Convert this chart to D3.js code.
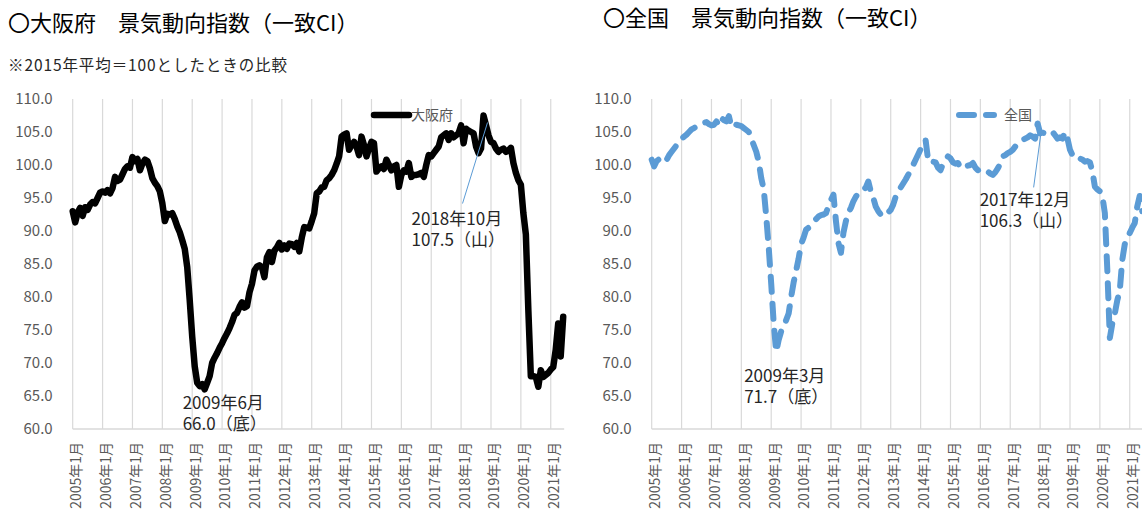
<!DOCTYPE html>
<html>
<head>
<meta charset="utf-8">
<script src="https://cdn.jsdelivr.net/npm/d3@7/dist/d3.min.js"></script>
<style>
  body { margin: 0; background: #fff; }
  svg { display: block; font-family: "Noto Sans CJK JP", "Noto Sans", sans-serif; }
</style>
</head>
<body>
<div id="chart"></div>
<script>
// 景気動向指数（一致CI）、2015年平均=100、月次 2005年1月〜2021年6月
let osakaCI = [
  93.0, 91.3, 92.8, 93.5, 92.3, 93.6, 93.2, 94.0, 94.4, 94.2, 95.0, 95.8,       // 2005
  96.0, 95.8, 96.2, 95.7, 96.5, 98.2, 97.6, 97.8, 98.6, 99.4, 99.8, 99.6,       // 2006
  101.2, 100.6, 100.9, 99.2, 100.2, 100.8, 100.6, 99.5, 98.0, 97.3, 96.8, 96.0, // 2007
  94.2, 91.5, 92.6, 92.5, 92.7, 91.8, 90.7, 89.8, 88.6, 87.3, 84.5, 79.5,       // 2008
  74.0, 69.5, 67.0, 66.5, 66.8, 66.0, 67.0, 68.0, 70.0, 70.8, 71.5, 72.3,       // 2009
  73.0, 73.8, 74.5, 75.3, 76.2, 77.3, 77.6, 78.5, 79.2, 78.4, 78.6, 80.7,       // 2010
  82.0, 84.0, 84.6, 84.8, 84.5, 83.0, 86.0, 86.8, 85.3, 87.0, 87.5, 88.2,       // 2011
  87.2, 87.8, 87.3, 88.1, 88.0, 87.6, 88.2, 86.9, 89.0, 90.6, 90.5, 90.4,       // 2012
  91.5, 92.7, 95.7, 96.0, 96.6, 96.7, 97.7, 98.0, 98.5, 99.2, 100.2, 101.3,     // 2013
  104.3, 104.6, 104.8, 102.3, 103.0, 103.5, 102.8, 101.5, 104.3, 103.0, 101.3, 102.5, // 2014
  103.5, 103.3, 99.0, 99.5, 99.8, 99.4, 100.8, 100.0, 99.2, 99.8, 100.0, 96.7,  // 2015
  98.5, 99.2, 99.0, 100.3, 98.2, 98.5, 98.5, 98.6, 98.8, 98.2, 100.0, 101.5,    // 2016
  101.3, 101.8, 102.3, 102.8, 104.2, 104.5, 104.8, 103.8, 104.8, 104.2, 104.5, 104.8, // 2017
  106.0, 103.3, 105.5, 105.2, 105.0, 104.8, 102.8, 101.8, 102.5, 107.5, 106.0, 104.5, // 2018
  103.5, 103.3, 102.5, 102.0, 102.3, 102.5, 102.0, 102.2, 102.6, 100.3, 98.8, 97.7,   // 2019
  97.0, 92.7, 89.5, 78.0, 68.0, 68.0, 67.9, 66.4, 68.9, 67.9, 68.2, 68.5,       // 2020
  69.0, 69.4, 72.0, 76.0, 71.0, 77.0                                            // 2021
];

let zenkokuCI = [
  100.8, 99.8, 100.6, 100.9, 101.0, 101.3, 100.8, 101.5, 102.0, 102.5, 103.0, 103.5, // 2005
  104.0, 104.3, 104.6, 105.0, 105.4, 105.6, 105.8, 106.1, 106.2, 106.4, 106.5, 106.2, // 2006
  106.0, 106.1, 106.6, 106.1, 107.1, 106.8, 106.6, 107.4, 105.8, 106.2, 106.1, 106.0, // 2007
  105.9, 105.6, 105.3, 105.0, 104.0, 103.0, 102.0, 100.5, 98.0, 96.3, 92.2, 87.5,     // 2008
  82.0, 76.0, 71.7, 73.5, 74.8, 75.5, 76.5, 77.5, 80.0, 82.2, 84.0, 85.8,             // 2009
  88.0, 89.0, 90.2, 90.5, 90.9, 91.3, 91.8, 92.2, 92.4, 92.5, 92.7, 93.8,             // 2010
  94.7, 95.5, 91.5, 88.2, 86.7, 89.7, 91.5, 92.8, 93.5, 94.5, 95.2, 95.8,             // 2011
  96.0, 96.2, 96.6, 97.5, 96.0, 95.0, 93.7, 93.0, 92.5, 92.2, 92.5, 92.8,             // 2012
  93.2, 94.0, 95.2, 95.8, 96.6, 97.2, 97.8, 98.5, 99.2, 100.0, 100.8, 101.6,          // 2013
  102.4, 103.0, 103.8, 100.8, 100.3, 100.5, 100.4, 99.6, 99.2, 100.2, 100.8, 101.3,   // 2014
  101.0, 100.4, 100.2, 100.3, 99.6, 99.5, 99.8, 99.9, 100.0, 100.3, 99.6, 99.2,       // 2015
  99.4, 99.2, 99.2, 99.0, 98.7, 98.5, 98.9, 99.5, 100.2, 101.3, 101.5, 101.8,         // 2016
  102.0, 102.3, 102.8, 103.0, 103.3, 103.8, 104.0, 104.2, 104.5, 104.3, 104.0, 106.3, // 2017
  104.8, 104.9, 104.8, 104.6, 104.8, 105.0, 104.5, 104.0, 104.2, 104.0, 105.0, 104.0, // 2018
  102.3, 101.5, 101.7, 101.3, 101.0, 100.8, 100.5, 100.6, 100.4, 99.0, 96.7, 96.3,    // 2019
  96.0, 95.3, 92.7, 84.0, 73.8, 76.0, 77.5, 79.5, 81.0, 85.6, 88.0, 89.0,             // 2020
  89.7, 90.5, 91.2, 93.7, 95.3, 93.0                                                  // 2021
];

let yearLabels = ["2005年1月", "2006年1月", "2007年1月", "2008年1月", "2009年1月", "2010年1月",
  "2011年1月", "2012年1月", "2013年1月", "2014年1月", "2015年1月", "2016年1月",
  "2017年1月", "2018年1月", "2019年1月", "2020年1月", "2021年1月"];

let yTicks = [60, 65, 70, 75, 80, 85, 90, 95, 100, 105, 110];

// 山・谷のラベル（月の番号は2005年1月=0）
let osakaMarks = [
  { month: 53, text: ["2009年6月", "66.0（底）"] },
  { month: 165, text: ["2018年10月", "107.5（山）"] }
];
let zenkokuMarks = [
  { month: 50, text: ["2009年3月", "71.7（底）"] },
  { month: 155, text: ["2017年12月", "106.3（山）"] }
];

let width = 1142;
let height = 518;
let plotWidth = 490.5;

let svg = d3.select("#chart").append("svg")
  .attr("width", width)
  .attr("height", height);

svg.append("rect").attr("width", width).attr("height", height).attr("fill", "#fff");

let y = d3.scaleLinear().domain([60, 110]).range([429, 99]);

function drawPanel(left, values, marks, opt) {
  let x = d3.scaleLinear().domain([0, 197]).range([left, left + plotWidth]);
  let g = svg.append("g");

  // vertical gridlines every January
  g.selectAll(".grid")
    .data(yearLabels)
    .enter().append("line")
    .attr("x1", (d, i) => x(i * 12))
    .attr("x2", (d, i) => x(i * 12))
    .attr("y1", y(110))
    .attr("y2", y(60))
    .attr("stroke", "#d9d9d9")
    .attr("stroke-width", 1.2);

  // bottom axis line
  g.append("line")
    .attr("x1", x(0)).attr("x2", x(197) + 1)
    .attr("y1", y(60)).attr("y2", y(60))
    .attr("stroke", "#d9d9d9")
    .attr("stroke-width", 1.5);

  // y tick labels
  g.selectAll(".ytick")
    .data(yTicks)
    .enter().append("text")
    .attr("x", left - 20)
    .attr("y", d => y(d))
    .attr("dy", "0.35em")
    .attr("text-anchor", "end")
    .attr("font-size", 15)
    .attr("fill", "#595959")
    .text(d => d3.format(".1f")(d));

  // x tick labels (rotated)
  g.selectAll(".xtick")
    .data(yearLabels)
    .enter().append("text")
    .attr("transform", (d, i) => "translate(" + (x(i * 12) + 3.5) + ",442) rotate(-90)")
    .attr("dy", "0.35em")
    .attr("text-anchor", "end")
    .attr("font-size", 14)
    .attr("fill", "#595959")
    .text(d => d);

  let line = d3.line()
    .x((d, i) => x(i))
    .y(d => y(d));

  g.append("path")
    .datum(values)
    .attr("d", line)
    .attr("fill", "none")
    .attr("stroke", opt.color)
    .attr("stroke-width", opt.width)
    .attr("stroke-dasharray", opt.dash)
    .attr("stroke-linejoin", "round")
    .attr("stroke-linecap", "round");

  // legend
  g.append("line")
    .attr("x1", opt.legendX).attr("x2", opt.legendX + 35)
    .attr("y1", 115).attr("y2", 115)
    .attr("stroke", opt.color)
    .attr("stroke-width", opt.width)
    .attr("stroke-dasharray", opt.dash)
    .attr("stroke-linecap", "round");
  g.append("text")
    .attr("x", opt.legendX + opt.legendGap)
    .attr("y", 120)
    .attr("font-size", 14)
    .attr("fill", "#595959")
    .text(opt.name);

  // peak / trough labels
  marks.forEach((m, k) => {
    let px = x(m.month), py = y(values[m.month]);
    let off = opt.labelOffsets[k];
    if (off.leader) {
      g.append("line")
        .attr("x1", px + off.leader[0]).attr("y1", py + off.leader[1])
        .attr("x2", px + off.leader[2]).attr("y2", py + off.leader[3])
        .attr("stroke", "#5b9bd5")
        .attr("stroke-width", 1);
    }
    m.text.forEach((s, j) => {
      g.append("text")
        .attr("x", px + off.dx)
        .attr("y", py + off.dy + j * 21)
        .attr("font-size", 17)
        .attr("fill", "#262626")
        .text(s);
    });
  });
}

drawPanel(72.7, osakaCI, osakaMarks, {
  name: "大阪府", color: "#000", width: 6.5, dash: null,
  legendX: 374, legendGap: 37,
  labelOffsets: [
    { dx: -22, dy: 20 },
    { dx: -72, dy: 109, leader: [-21, 88, 4, 7] }
  ]
});

drawPanel(651.7, zenkokuCI, zenkokuMarks, {
  name: "全国", color: "#5b9bd5", width: 6, dash: "15,12",
  legendX: 959, legendGap: 45,
  labelOffsets: [
    { dx: -32, dy: 30 },
    { dx: -58, dy: 83, leader: [-4, 64, 3, 12] }
  ]
});

// titles
svg.append("text")
  .attr("x", 8).attr("y", 31)
  .attr("font-size", 22)
  .attr("fill", "#000")
  .text("〇大阪府　景気動向指数（一致CI）");

svg.append("text")
  .attr("x", 8).attr("y", 71)
  .attr("font-size", 15.5)
  .attr("fill", "#262626")
  .attr("textLength", 279)
  .attr("lengthAdjust", "spacing")
  .text("※2015年平均＝100としたときの比較");

svg.append("text")
  .attr("x", 603).attr("y", 26)
  .attr("font-size", 22)
  .attr("fill", "#000")
  .text("〇全国　景気動向指数（一致CI）");
</script>
</body>
</html>
